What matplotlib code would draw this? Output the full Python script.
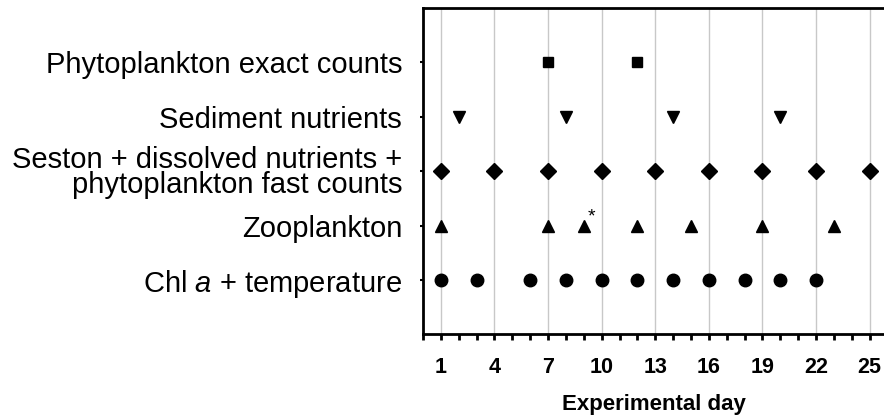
import matplotlib
matplotlib.use("Agg")
import matplotlib.pyplot as plt
from matplotlib.ticker import MultipleLocator, FixedLocator

plt.rcParams['font.family'] = ['Liberation Sans', 'DejaVu Sans']
plt.rcParams['mathtext.fontset'] = 'custom'
plt.rcParams['mathtext.it'] = 'Liberation Sans:italic'
plt.rcParams['mathtext.rm'] = 'Liberation Sans'

# sampling schedule (experimental day) per variable group
categories = ["Chl $\\mathit{a}$ + temperature",
              "Zooplankton",
              "Seston + dissolved nutrients +\nphytoplankton fast counts",
              "Sediment nutrients",
              "Phytoplankton exact counts"]
chl_days = [1, 3, 6, 8, 10, 12, 14, 16, 18, 20, 22]
zoo_days = [1, 7, 9, 12, 15, 19, 23]
seston_days = [1, 4, 7, 10, 13, 16, 19, 22, 25]
sediment_days = [2, 8, 14, 20]
phyto_days = [7, 12]
x_ticks = [1, 4, 7, 10, 13, 16, 19, 22, 25]
star_day = 9

fig = plt.figure(figsize=(8.84, 4.17), dpi=100)
ax = fig.add_axes([0.4785, 0.198, 0.5215, 0.783])

series = [(chl_days, 'o', 9), (zoo_days, '^', 8.5), (seston_days, 'D', 8.5),
          (sediment_days, 'v', 8.5), (phyto_days, 's', 7.5)]
for i, (days, mk, ms) in enumerate(series):
    ax.plot(days, [i + 1] * len(days), linestyle='none', marker=mk,
            markersize=ms, color='black', zorder=3)

ax.annotate('*', (star_day, 2), xytext=(3, 0), textcoords='offset points',
            fontsize=14, ha='left', va='bottom')

ax.set_xlim(0, 25.8)
ax.set_ylim(0, 6)
ax.xaxis.set_major_locator(FixedLocator(x_ticks))
ax.xaxis.set_minor_locator(MultipleLocator(1))
ax.set_yticks(range(1, 6))
ax.set_yticklabels(categories, fontsize=21, linespacing=0.85)
ax.set_xticklabels([str(t) for t in x_ticks], fontsize=15.5, fontweight='bold')
ax.set_xlabel("Experimental day", fontsize=16, fontweight='bold', labelpad=12)

ax.grid(axis='x', which='major', color='#c8c8c8', linewidth=1, zorder=0)
ax.tick_params(axis='x', which='both', direction='out', length=4, width=2, pad=12)
ax.tick_params(axis='y', direction='out', length=2, width=1.5, pad=13)

for side in ['left', 'bottom', 'top']:
    ax.spines[side].set_linewidth(2)
ax.spines['right'].set_visible(False)

fig.savefig("out.png", dpi=100)
